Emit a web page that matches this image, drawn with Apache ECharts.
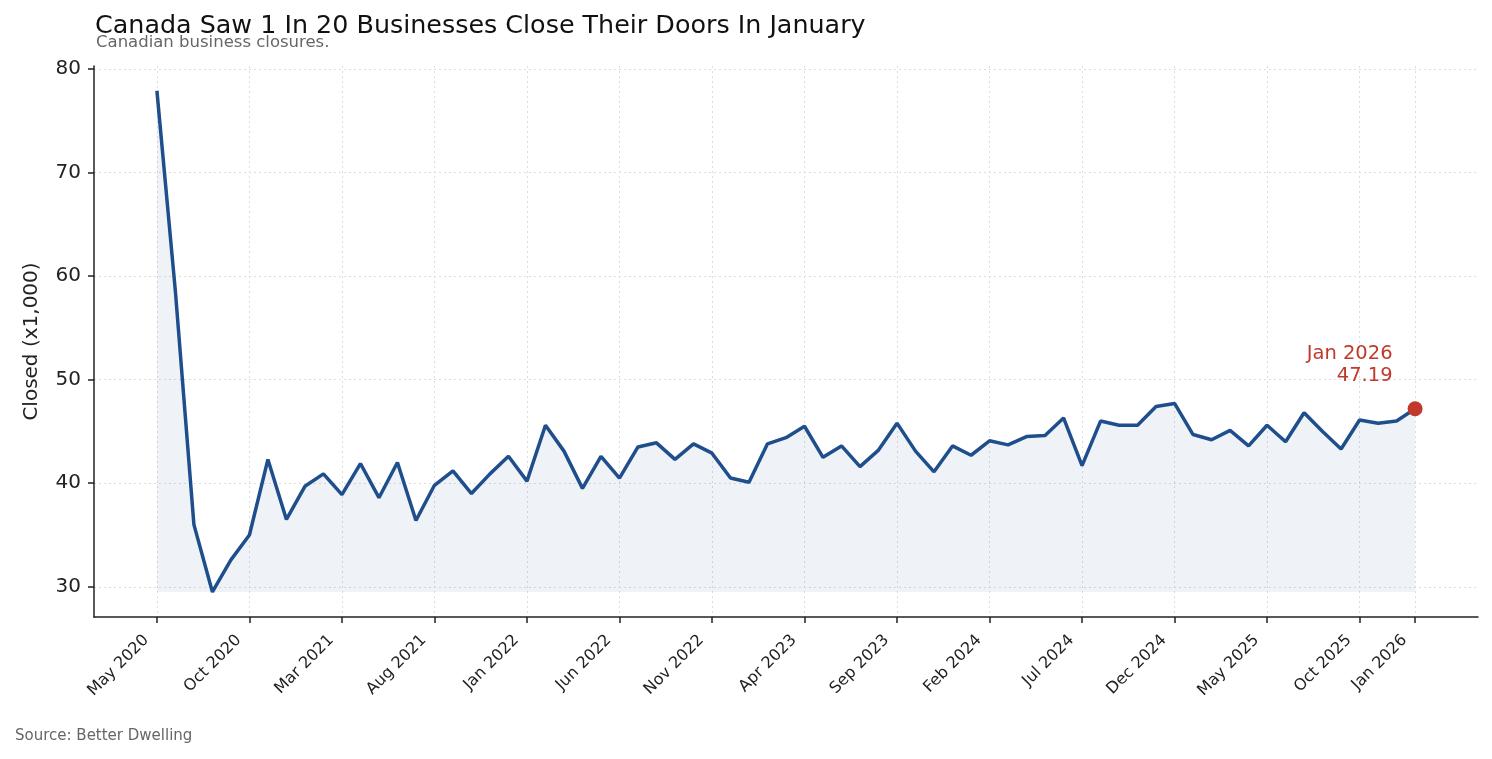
<!DOCTYPE html>
<html style="height: 100%">
<head>
<meta charset="utf-8">
</head>
<body style="height: 100%; margin: 0">
<div id="container" style="width: 1492px; height: 759px;"></div>
<script src="https://cdn.jsdelivr.net/npm/echarts@6/dist/echarts.min.js"></script>
<script>
// monthly closures, May 2020 .. Jan 2026 (thousands)
const closures = [
    77.9, 58.5, 36.0, 29.5, 32.6, 35.0, 42.3, 36.5, 39.7, 40.9,
    38.9, 41.9, 38.6, 42.0, 36.4, 39.8, 41.2, 39.0, 40.9, 42.6,
    40.2, 45.6, 43.1, 39.5, 42.6, 40.5, 43.5, 43.9, 42.3, 43.8,
    42.9, 40.5, 40.1, 43.8, 44.4, 45.5, 42.5, 43.6, 41.6, 43.2,
    45.8, 43.1, 41.1, 43.6, 42.7, 44.1, 43.7, 44.5, 44.6, 46.3,
    41.7, 46.0, 45.6, 45.6, 47.4, 47.7, 44.7, 44.2, 45.1, 43.6,
    45.6, 44.0, 46.8, 45.0, 43.3, 46.1, 45.8, 46.0, 47.19
];
const tickIdx = [0, 5, 10, 15, 20, 25, 30, 35, 40, 45, 50, 55, 60, 65, 68];
const tickLabels = ['May 2020', 'Oct 2020', 'Mar 2021', 'Aug 2021', 'Jan 2022', 'Jun 2022',
    'Nov 2022', 'Apr 2023', 'Sep 2023', 'Feb 2024', 'Jul 2024', 'Dec 2024', 'May 2025',
    'Oct 2025', 'Jan 2026'];
const yTicks = [30, 40, 50, 60, 70, 80];
const lastLabel = 'Jan 2026';

const font = 'DejaVu Sans';
const lineData = closures.map(function (v, i) { return [i, v]; });
const last = lineData[lineData.length - 1];
const floor = Math.min.apply(null, closures);

const chart = echarts.init(document.getElementById('container'));
const option = {
    backgroundColor: '#fff',
    animation: false,
    title: [
        {
            text: 'Canada Saw 1 In 20 Businesses Close Their Doors In January',
            left: 95, top: 14, padding: 0,
            textStyle: { fontFamily: font, fontSize: 25.4, fontWeight: 'normal', color: '#111' }
        },
        {
            text: 'Canadian business closures.',
            left: 96, top: 34, padding: 0,
            textStyle: { fontFamily: font, fontSize: 16.5, fontWeight: 'normal', color: '#666' }
        },
        {
            text: 'Source: Better Dwelling',
            left: 15, top: 729, padding: 0,
            textStyle: { fontFamily: font, fontSize: 15, fontWeight: 'normal', color: '#666' }
        }
    ],
    grid: { left: 94, right: 14, top: 66, bottom: 142, outerBoundsMode: 'none' },
    xAxis: {
        type: 'value',
        min: -3.4,
        max: 71.4,
        axisLine: { show: true, onZero: false, lineStyle: { color: '#222', width: 1.5 } },
        axisTick: { show: true, length: 6, customValues: tickIdx, lineStyle: { color: '#222', width: 1.5 } },
        axisLabel: {
            customValues: tickIdx,
            rotate: 45,
            padding: [0, 15, 0, 0],
            fontFamily: font, fontSize: 16, color: '#222', margin: 10,
            formatter: function (v) { return tickLabels[tickIdx.indexOf(v)] || ''; }
        },
        splitLine: { show: true, lineStyle: { color: '#ddd', type: [2, 3], width: 1 } }
    },
    yAxis: {
        type: 'value',
        min: 27.08,
        max: 80.29,
        name: 'Closed (x1,000)',
        nameLocation: 'middle',
        nameGap: 52,
        nameTextStyle: { fontFamily: font, fontSize: 20, color: '#222' },
        axisLine: { show: true, onZero: false, lineStyle: { color: '#222', width: 1.5 } },
        axisTick: { show: true, length: 6, customValues: yTicks, lineStyle: { color: '#222', width: 1.5 } },
        axisLabel: { customValues: yTicks, fontFamily: font, fontSize: 20, color: '#222', margin: 13 },
        splitLine: { show: true, lineStyle: { color: '#ddd', type: [2, 3], width: 1 } }
    },
    series: [
        {
            type: 'line',
            data: lineData,
            showSymbol: false,
            lineStyle: { color: '#1f4e8c', width: 3.5 },
            areaStyle: { color: 'rgba(31,78,140,0.1)', origin: floor },
            z: 3
        },
        {
            type: 'scatter',
            data: [last],
            symbolSize: 15,
            itemStyle: { color: '#c0392b', opacity: 1 },
            label: {
                show: true,
                position: 'left',
                distance: 15,
                offset: [0, -44],
                align: 'right',
                lineHeight: 22,
                fontFamily: font, fontSize: 19.5, color: '#c0392b',
                formatter: function (p) { return lastLabel + '\n' + p.value[1].toFixed(2); }
            },
            z: 4
        }
    ]
};
chart.setOption(option);
</script>
</body>
</html>
